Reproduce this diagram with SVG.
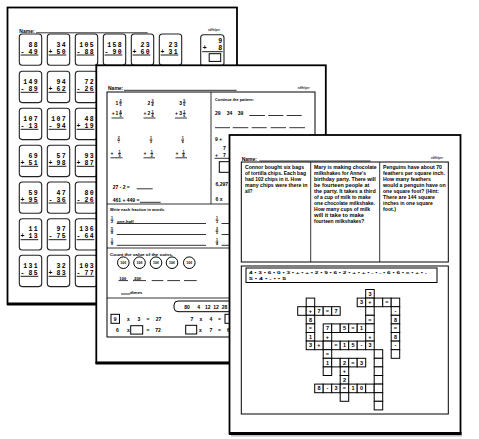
<svg xmlns="http://www.w3.org/2000/svg" width="479" height="439" viewBox="0 0 479 439">
<style>
.page{fill:#fff;stroke:#000;stroke-width:1.8}
.edge{stroke:#000;stroke-width:2.8}
.shadow{stroke:#bbb;stroke-width:2}
.card{fill:#fff;stroke:#222;stroke-width:1.1}
.num{font-family:"Liberation Mono",monospace;font-weight:bold;font-size:6.5px;letter-spacing:1.4px;text-anchor:end}
.op{font-family:"Liberation Mono",monospace;font-weight:bold;font-size:6.5px}
.ul{stroke:#000;stroke-width:0.9}
.t{font-family:"Liberation Sans",Arial,sans-serif;font-weight:bold;font-size:5px}
.sm{font-size:4.3px}
.m{text-anchor:middle}
.logo{font-family:"Liberation Sans",Arial,sans-serif;font-weight:bold;font-size:2.8px;fill:#333}
.fr{font-family:"Liberation Sans",Arial,sans-serif;font-weight:bold;font-size:3.6px;text-anchor:middle}
.ln{stroke:#000;stroke-width:0.8}
.box{fill:none;stroke:#000;stroke-width:1}
.cell{fill:#fff;stroke:#000;stroke-width:1}
.cw{font-family:"Liberation Sans",Arial,sans-serif;font-weight:bold;font-size:5.5px;text-anchor:middle}
.p3{font-family:"Liberation Sans",Arial,sans-serif;font-weight:bold;font-size:5.6px}
</style>
<rect width="479" height="439" fill="#fff"/>

<!-- PAGE 1 -->
<g id="page1">
<rect class="page" x="7.5" y="7.5" width="229.5" height="296.5"/>
<line class="edge" x1="7" y1="304" x2="238" y2="304"/>
<text class="t" x="19.3" y="33">Name:</text>
<line class="ln" x1="36" y1="32.8" x2="147.7" y2="32.8"/>
<text class="logo" x="208" y="31">edHelper</text>
<g transform="translate(19.3,34)"><rect class="card" width="22.4" height="31.3" rx="3"/><text class="num" x="19.8" y="12.7">88</text><text class="op" x="1.2" y="19.8">-</text><text class="num" x="19.8" y="19.8">49</text><line class="ul" x1="1.3" y1="21" x2="19" y2="21"/></g>
<g transform="translate(47.3,34)"><rect class="card" width="22.4" height="31.3" rx="3"/><text class="num" x="19.8" y="12.7">34</text><text class="op" x="1.2" y="19.8">+</text><text class="num" x="19.8" y="19.8">50</text><line class="ul" x1="1.3" y1="21" x2="19" y2="21"/></g>
<g transform="translate(75.3,34)"><rect class="card" width="22.4" height="31.3" rx="3"/><text class="num" x="19.8" y="12.7">105</text><text class="op" x="1.2" y="19.8">-</text><text class="num" x="19.8" y="19.8">88</text><line class="ul" x1="1.3" y1="21" x2="19" y2="21"/></g>
<g transform="translate(103.3,34)"><rect class="card" width="22.4" height="31.3" rx="3"/><text class="num" x="19.8" y="12.7">158</text><text class="op" x="1.2" y="19.8">-</text><text class="num" x="19.8" y="19.8">90</text><line class="ul" x1="1.3" y1="21" x2="19" y2="21"/></g>
<g transform="translate(131.3,34)"><rect class="card" width="22.4" height="31.3" rx="3"/><text class="num" x="19.8" y="12.7">23</text><text class="op" x="1.2" y="19.8">+</text><text class="num" x="19.8" y="19.8">60</text><line class="ul" x1="1.3" y1="21" x2="19" y2="21"/></g>
<g transform="translate(159.3,34)"><rect class="card" width="22.4" height="31.3" rx="3"/><text class="num" x="19.8" y="12.7">23</text><text class="op" x="1.2" y="19.8">+</text><text class="num" x="19.8" y="19.8">31</text><line class="ul" x1="1.3" y1="21" x2="19" y2="21"/></g>
<g transform="translate(200.7,34.7)"><rect class="card" width="23.3" height="31.3" rx="3"/><text class="num" x="22.8" y="8.3">9</text><text class="op" x="2" y="15.8">+</text><text class="num" x="22.8" y="15.8">8</text><line class="ul" x1="1.5" y1="17" x2="22" y2="17"/><rect class="box" x="8.5" y="19" width="11.5" height="7.7"/></g>

<g transform="translate(19.3,71.3)"><rect class="card" width="22.4" height="31.3" rx="3"/><text class="num" x="19.8" y="12.7">149</text><text class="op" x="1.2" y="19.8">-</text><text class="num" x="19.8" y="19.8">89</text><line class="ul" x1="1.3" y1="21" x2="19" y2="21"/></g>
<g transform="translate(47.3,71.3)"><rect class="card" width="22.4" height="31.3" rx="3"/><text class="num" x="19.8" y="12.7">94</text><text class="op" x="1.2" y="19.8">+</text><text class="num" x="19.8" y="19.8">62</text><line class="ul" x1="1.3" y1="21" x2="19" y2="21"/></g>
<g transform="translate(75.3,71.3)"><rect class="card" width="22.4" height="31.3" rx="3"/><text class="num" x="19.8" y="12.7">72</text><text class="op" x="1.2" y="19.8">-</text><text class="num" x="19.8" y="19.8">26</text><line class="ul" x1="1.3" y1="21" x2="19" y2="21"/></g>

<g transform="translate(19.3,108.3)"><rect class="card" width="22.4" height="31.3" rx="3"/><text class="num" x="19.8" y="12.7">107</text><text class="op" x="1.2" y="19.8">-</text><text class="num" x="19.8" y="19.8">13</text><line class="ul" x1="1.3" y1="21" x2="19" y2="21"/></g>
<g transform="translate(47.3,108.3)"><rect class="card" width="22.4" height="31.3" rx="3"/><text class="num" x="19.8" y="12.7">107</text><text class="op" x="1.2" y="19.8">-</text><text class="num" x="19.8" y="19.8">94</text><line class="ul" x1="1.3" y1="21" x2="19" y2="21"/></g>
<g transform="translate(75.3,108.3)"><rect class="card" width="22.4" height="31.3" rx="3"/><text class="num" x="19.8" y="12.7">48</text><text class="op" x="1.2" y="19.8">+</text><text class="num" x="19.8" y="19.8">19</text><line class="ul" x1="1.3" y1="21" x2="19" y2="21"/></g>

<g transform="translate(19.3,145.3)"><rect class="card" width="22.4" height="31.3" rx="3"/><text class="num" x="19.8" y="12.7">69</text><text class="op" x="1.2" y="19.8">+</text><text class="num" x="19.8" y="19.8">51</text><line class="ul" x1="1.3" y1="21" x2="19" y2="21"/></g>
<g transform="translate(47.3,145.3)"><rect class="card" width="22.4" height="31.3" rx="3"/><text class="num" x="19.8" y="12.7">57</text><text class="op" x="1.2" y="19.8">+</text><text class="num" x="19.8" y="19.8">98</text><line class="ul" x1="1.3" y1="21" x2="19" y2="21"/></g>
<g transform="translate(75.3,145.3)"><rect class="card" width="22.4" height="31.3" rx="3"/><text class="num" x="19.8" y="12.7">93</text><text class="op" x="1.2" y="19.8">+</text><text class="num" x="19.8" y="19.8">87</text><line class="ul" x1="1.3" y1="21" x2="19" y2="21"/></g>

<g transform="translate(19.3,182)"><rect class="card" width="22.4" height="31.3" rx="3"/><text class="num" x="19.8" y="12.7">59</text><text class="op" x="1.2" y="19.8">+</text><text class="num" x="19.8" y="19.8">95</text><line class="ul" x1="1.3" y1="21" x2="19" y2="21"/></g>
<g transform="translate(47.3,182)"><rect class="card" width="22.4" height="31.3" rx="3"/><text class="num" x="19.8" y="12.7">47</text><text class="op" x="1.2" y="19.8">-</text><text class="num" x="19.8" y="19.8">36</text><line class="ul" x1="1.3" y1="21" x2="19" y2="21"/></g>
<g transform="translate(75.3,182)"><rect class="card" width="22.4" height="31.3" rx="3"/><text class="num" x="19.8" y="12.7">80</text><text class="op" x="1.2" y="19.8">-</text><text class="num" x="19.8" y="19.8">26</text><line class="ul" x1="1.3" y1="21" x2="19" y2="21"/></g>

<g transform="translate(19.3,218.7)"><rect class="card" width="22.4" height="31.3" rx="3"/><text class="num" x="19.8" y="12.7">11</text><text class="op" x="1.2" y="19.8">+</text><text class="num" x="19.8" y="19.8">13</text><line class="ul" x1="1.3" y1="21" x2="19" y2="21"/></g>
<g transform="translate(47.3,218.7)"><rect class="card" width="22.4" height="31.3" rx="3"/><text class="num" x="19.8" y="12.7">97</text><text class="op" x="1.2" y="19.8">-</text><text class="num" x="19.8" y="19.8">75</text><line class="ul" x1="1.3" y1="21" x2="19" y2="21"/></g>
<g transform="translate(75.3,218.7)"><rect class="card" width="22.4" height="31.3" rx="3"/><text class="num" x="19.8" y="12.7">136</text><text class="op" x="1.2" y="19.8">-</text><text class="num" x="19.8" y="19.8">64</text><line class="ul" x1="1.3" y1="21" x2="19" y2="21"/></g>

<g transform="translate(19.3,255.3)"><rect class="card" width="22.4" height="31.3" rx="3"/><text class="num" x="19.8" y="12.7">131</text><text class="op" x="1.2" y="19.8">-</text><text class="num" x="19.8" y="19.8">85</text><line class="ul" x1="1.3" y1="21" x2="19" y2="21"/></g>
<g transform="translate(47.3,255.3)"><rect class="card" width="22.4" height="31.3" rx="3"/><text class="num" x="19.8" y="12.7">32</text><text class="op" x="1.2" y="19.8">+</text><text class="num" x="19.8" y="19.8">83</text><line class="ul" x1="1.3" y1="21" x2="19" y2="21"/></g>
<g transform="translate(75.3,255.3)"><rect class="card" width="22.4" height="31.3" rx="3"/><text class="num" x="19.8" y="12.7">103</text><text class="op" x="1.2" y="19.8">-</text><text class="num" x="19.8" y="19.8">77</text><line class="ul" x1="1.3" y1="21" x2="19" y2="21"/></g>
</g>

<!-- PAGE 2 -->
<g id="page2">
<rect class="page" x="96.3" y="65.3" width="229.5" height="297.5"/>
<line class="edge" x1="95.5" y1="363" x2="326.5" y2="363"/>
<text class="t" x="108" y="90">Name:</text>
<line class="ln" x1="124" y1="90.3" x2="236.7" y2="90.3"/>
<text class="logo" x="297.7" y="89">edHelper</text>
<rect class="box" x="107" y="92" width="208" height="245"/>
<line class="ln" x1="211" y1="92" x2="211" y2="204"/>
<line class="ln" x1="107" y1="204" x2="315" y2="204"/>
<line class="ln" x1="107" y1="248" x2="315" y2="248"/>
<line class="ln" x1="107" y1="298" x2="315" y2="298"/>

<text class="t m" x="117" y="104.5">1</text><text class="fr" x="120.6" y="102">2</text><line class="ln" x1="119.2" y1="102.7" x2="122" y2="102.7" stroke-width="0.5"/><text class="fr" x="120.6" y="106">5</text>
<text class="t m" x="149" y="104.5">2</text><text class="fr" x="152.6" y="102">3</text><line class="ln" x1="151.2" y1="102.7" x2="154" y2="102.7" stroke-width="0.5"/><text class="fr" x="152.6" y="106">4</text>
<text class="t m" x="180.7" y="104.5">3</text><text class="fr" x="184.3" y="102">5</text><line class="ln" x1="182.9" y1="102.7" x2="185.7" y2="102.7" stroke-width="0.5"/><text class="fr" x="184.3" y="106">6</text>
<text class="t m" x="113.3" y="115.3">+</text><text class="t m" x="117" y="115.3">1</text><text class="fr" x="120.6" y="112.8">4</text><line class="ln" x1="119.2" y1="113.5" x2="122" y2="113.5" stroke-width="0.5"/><text class="fr" x="120.6" y="116.8">5</text><line class="ln" x1="111.5" y1="118" x2="123.5" y2="118"/>
<text class="t m" x="145" y="115.3">+</text><text class="t m" x="149" y="115.3">2</text><text class="fr" x="152.6" y="112.8">1</text><line class="ln" x1="151.2" y1="113.5" x2="154" y2="113.5" stroke-width="0.5"/><text class="fr" x="152.6" y="116.8">4</text><line class="ln" x1="143.5" y1="118" x2="155.5" y2="118"/>
<text class="t m" x="176.5" y="115.3">+</text><text class="t m" x="180.7" y="115.3">3</text><text class="fr" x="184.3" y="112.8">1</text><line class="ln" x1="182.9" y1="113.5" x2="185.7" y2="113.5" stroke-width="0.5"/><text class="fr" x="184.3" y="116.8">6</text><line class="ln" x1="175" y1="118" x2="187" y2="118"/>
<text class="fr" x="118.7" y="139.3">2</text><line class="ln" x1="117.3" y1="140" x2="120.1" y2="140" stroke-width="0.5"/><text class="fr" x="118.7" y="143.3">7</text>
<text class="fr" x="151" y="139.3">1</text><line class="ln" x1="149.6" y1="140" x2="152.4" y2="140" stroke-width="0.5"/><text class="fr" x="151" y="143.3">2</text>
<text class="fr" x="182.7" y="139.3">1</text><line class="ln" x1="181.3" y1="140" x2="184.1" y2="140" stroke-width="0.5"/><text class="fr" x="182.7" y="143.3">6</text>
<text class="t m" x="112" y="155.3">+</text><text class="fr" x="119.5" y="152.8">1</text><line class="ln" x1="118.1" y1="153.5" x2="120.9" y2="153.5" stroke-width="0.5"/><text class="fr" x="119.5" y="156.8">9</text><line class="ln" x1="110.5" y1="157.8" x2="122.5" y2="157.8"/>
<text class="t m" x="145" y="155.3">+</text><text class="fr" x="151.8" y="152.8">1</text><line class="ln" x1="150.4" y1="153.5" x2="153.2" y2="153.5" stroke-width="0.5"/><text class="fr" x="151.8" y="156.8">2</text><line class="ln" x1="143.5" y1="157.8" x2="155" y2="157.8"/>
<text class="t m" x="177" y="155.3">+</text><text class="fr" x="183.5" y="152.8">1</text><line class="ln" x1="182.1" y1="153.5" x2="184.9" y2="153.5" stroke-width="0.5"/><text class="fr" x="183.5" y="156.8">8</text><line class="ln" x1="175.5" y1="157.8" x2="187" y2="157.8"/>
<text class="t" x="112.7" y="188.5">27  -  2  =</text><line class="ln" x1="136.7" y1="188.8" x2="152.7" y2="188.8"/>
<text class="t" x="112.7" y="202">461  +  449  =</text><line class="ln" x1="140" y1="202.3" x2="160.7" y2="202.3"/>

<text class="t sm" x="215" y="100.5" textLength="39" lengthAdjust="spacingAndGlyphs">Continue the pattern:</text>
<text class="t" x="215" y="115">29</text><text class="t" x="226.7" y="115">34</text><text class="t" x="237.7" y="115">39</text>
<line class="ln" x1="249.3" y1="115.5" x2="265" y2="115.5"/><line class="ln" x1="268.3" y1="115.5" x2="283.3" y2="115.5"/><line class="ln" x1="286.7" y1="115.5" x2="301.7" y2="115.5"/>
<line class="ln" x1="215" y1="127.7" x2="230" y2="127.7"/><line class="ln" x1="232.7" y1="127.7" x2="248.3" y2="127.7"/><line class="ln" x1="251.7" y1="127.7" x2="266.7" y2="127.7"/><line class="ln" x1="270.7" y1="127.7" x2="286" y2="127.7"/><line class="ln" x1="289.3" y1="127.7" x2="305" y2="127.7"/>
<text class="t" x="215" y="141">9  +</text>
<text class="t" x="223" y="150">7</text>
<text class="t" x="215" y="157">+</text><text class="t" x="223" y="157">7</text>
<line class="ln" x1="214.5" y1="158.3" x2="232" y2="158.3"/>
<rect class="box" x="219.3" y="161.7" width="15" height="10.6"/>
<text class="t" x="215.5" y="186">6,297</text>
<text class="t" x="215.5" y="201">6  x</text>

<text class="t sm" x="110" y="211" textLength="55" lengthAdjust="spacingAndGlyphs">Write each fraction in words.</text>
<text class="fr" x="112" y="219.3">1</text><line class="ln" x1="110.6" y1="220" x2="113.4" y2="220" stroke-width="0.5"/><text class="fr" x="112" y="223.3">2</text>
<text class="t sm" x="117" y="222.6">one-half</text>
<line class="ln" x1="116.7" y1="223.5" x2="206" y2="223.5"/>
<text class="fr" x="112" y="230.3">5</text><line class="ln" x1="110.6" y1="231" x2="113.4" y2="231" stroke-width="0.5"/><text class="fr" x="112" y="234.3">8</text>
<line class="ln" x1="116.7" y1="234.5" x2="206" y2="234.5"/>
<text class="fr" x="112" y="241.3">1</text><line class="ln" x1="110.6" y1="242" x2="113.4" y2="242" stroke-width="0.5"/><text class="fr" x="112" y="245.3">8</text>
<line class="ln" x1="116.7" y1="245.3" x2="206" y2="245.3"/>
<text class="fr" x="217" y="219.3">1</text><line class="ln" x1="215.6" y1="220" x2="218.4" y2="220" stroke-width="0.5"/><text class="fr" x="217" y="223.3">3</text>
<line class="ln" x1="221.5" y1="223.5" x2="236" y2="223.5"/>
<text class="fr" x="217" y="230.3">2</text><line class="ln" x1="215.6" y1="231" x2="218.4" y2="231" stroke-width="0.5"/><text class="fr" x="217" y="234.3">5</text>
<line class="ln" x1="221.5" y1="234.5" x2="236" y2="234.5"/>
<text class="fr" x="217" y="241.3">1</text><line class="ln" x1="215.6" y1="242" x2="218.4" y2="242" stroke-width="0.5"/><text class="fr" x="217" y="245.3">4</text>
<line class="ln" x1="221.5" y1="245.3" x2="236" y2="245.3"/>

<text class="t sm" x="110" y="255.5" textLength="63" lengthAdjust="spacingAndGlyphs">Count the value of the coins.</text>
<circle class="box" cx="123.3" cy="262.7" r="5.8"/><text class="fr" x="123.3" y="264">10¢</text>
<circle class="box" cx="139.5" cy="262.7" r="5.8"/><text class="fr" x="139.5" y="264">10¢</text>
<circle class="box" cx="156" cy="262.7" r="5.8"/><text class="fr" x="156" y="264">10¢</text>
<circle class="box" cx="172" cy="262.7" r="5.8"/><text class="fr" x="172" y="264">10¢</text>
<circle class="box" cx="189.3" cy="262.7" r="5.8"/><text class="fr" x="189.3" y="264">10¢</text>
<text class="t sm" x="119.3" y="279.6">10¢</text><line class="ln" x1="118.5" y1="280.6" x2="128" y2="280.6"/>
<text class="t sm" x="134" y="279.6">20¢</text><line class="ln" x1="133" y1="280.6" x2="146" y2="280.6"/>
<line class="ln" x1="151.7" y1="280.6" x2="163.3" y2="280.6"/><line class="ln" x1="167.3" y1="280.6" x2="180" y2="280.6"/><line class="ln" x1="184" y1="280.6" x2="196.7" y2="280.6"/>
<line class="ln" x1="121" y1="294" x2="130" y2="294"/><text class="t sm" x="130" y="293.6">dimes</text>

<rect class="box" x="174" y="301" width="80" height="10.7" rx="4"/>
<text class="t" x="184.3" y="308.5">80</text><text class="t" x="197.3" y="308.5">4</text><text class="t" x="205" y="308.5">12</text><text class="t" x="213.3" y="308.5">12</text><text class="t" x="221.7" y="308.5">28</text>
<rect class="box" x="111" y="314.3" width="8.5" height="9"/>
<text class="t m" x="115.2" y="320.5">9</text><text class="t m" x="128.5" y="320.5">x</text><text class="t m" x="139" y="320.5">3</text><text class="t m" x="148" y="320.5">=</text><text class="t m" x="158.5" y="320.5">27</text>
<text class="t m" x="117.5" y="331.8">6</text><text class="t m" x="128.5" y="331.8">x</text><rect class="box" x="130.7" y="325.7" width="12" height="8.4"/><text class="t m" x="148" y="331.8">=</text><text class="t m" x="158" y="331.8">72</text>
<text class="t m" x="192" y="320.5">7</text><text class="t m" x="201" y="320.5">x</text><text class="t m" x="211" y="320.5">4</text><text class="t m" x="219.5" y="320.5">=</text><rect class="box" x="225" y="314.3" width="10" height="9"/>
<rect class="box" x="185.7" y="325.3" width="11" height="8.7"/><text class="t m" x="200.5" y="331.8">x</text><text class="t m" x="211" y="331.8">7</text><text class="t m" x="219.5" y="331.8">=</text><text class="t m" x="228.5" y="331.8">6</text>
</g>

<!-- PAGE 3 -->
<g id="page3">
<line class="shadow" x1="231" y1="435.5" x2="462" y2="435.5"/>
<rect class="page" x="229.5" y="135" width="231" height="298.5"/>
<line class="edge" x1="229" y1="433.5" x2="461.5" y2="433.5"/>
<text class="t" x="241.7" y="161">Name:</text>
<line class="ln" x1="259.3" y1="161" x2="370.5" y2="161"/>
<text class="logo" x="431" y="158.5">edHelper</text>

<g id="word-problems">
<rect class="box" x="241.3" y="162" width="207" height="100"/>
<line class="ln" x1="310.7" y1="162" x2="310.7" y2="262"/>
<line class="ln" x1="379.7" y1="162" x2="379.7" y2="262"/>
<text class="p3" x="245" y="169.2" textLength="59" lengthAdjust="spacingAndGlyphs">Connor bought six bags</text>
<text class="p3" x="245" y="175.2" textLength="61" lengthAdjust="spacingAndGlyphs">of tortilla chips. Each bag</text>
<text class="p3" x="245" y="181.2" textLength="56" lengthAdjust="spacingAndGlyphs">had 102 chips in it. How</text>
<text class="p3" x="245" y="187.2" textLength="62.5" lengthAdjust="spacingAndGlyphs">many chips were there in</text>
<text class="p3" x="245" y="193.2" textLength="7.5" lengthAdjust="spacingAndGlyphs">all?</text>
<text class="p3" x="314" y="169.2" textLength="62.7" lengthAdjust="spacingAndGlyphs">Mary is making chocolate</text>
<text class="p3" x="314" y="175.2" textLength="52" lengthAdjust="spacingAndGlyphs">milkshakes for Anne's</text>
<text class="p3" x="314" y="181.2" textLength="61.7" lengthAdjust="spacingAndGlyphs">birthday party. There will</text>
<text class="p3" x="314" y="187.2" textLength="55.3" lengthAdjust="spacingAndGlyphs">be fourteen people at</text>
<text class="p3" x="314" y="193.2" textLength="61.7" lengthAdjust="spacingAndGlyphs">the party. It takes a third</text>
<text class="p3" x="314" y="199.2" textLength="56.7" lengthAdjust="spacingAndGlyphs">of a cup of milk to make</text>
<text class="p3" x="314" y="205.2" textLength="61" lengthAdjust="spacingAndGlyphs">one chocolate milkshake.</text>
<text class="p3" x="314" y="211.2" textLength="56" lengthAdjust="spacingAndGlyphs">How many cups of milk</text>
<text class="p3" x="314" y="217.2" textLength="50" lengthAdjust="spacingAndGlyphs">will it take to make</text>
<text class="p3" x="314" y="223.2" textLength="50.3" lengthAdjust="spacingAndGlyphs">fourteen milkshakes?</text>
<text class="p3" x="383" y="169.2" textLength="59" lengthAdjust="spacingAndGlyphs">Penguins have about 70</text>
<text class="p3" x="383" y="175.2" textLength="62" lengthAdjust="spacingAndGlyphs">feathers per square inch.</text>
<text class="p3" x="383" y="181.2" textLength="48" lengthAdjust="spacingAndGlyphs">How many feathers</text>
<text class="p3" x="383" y="187.2" textLength="62.7" lengthAdjust="spacingAndGlyphs">would a penguin have on</text>
<text class="p3" x="383" y="193.2" textLength="56" lengthAdjust="spacingAndGlyphs">one square foot? (Hint:</text>
<text class="p3" x="383" y="199.2" textLength="52" lengthAdjust="spacingAndGlyphs">There are 144 square</text>
<text class="p3" x="383" y="205.2" textLength="49.7" lengthAdjust="spacingAndGlyphs">inches in one square</text>
<text class="p3" x="383" y="211.2" textLength="13" lengthAdjust="spacingAndGlyphs">foot.)</text>
</g>

<g id="crossword-box">
<rect class="box" x="241.3" y="266" width="207" height="148"/>
<rect class="box" x="246" y="268" width="191" height="14.5"/>
<text class="t sm" x="249" y="274.3" textLength="178" lengthAdjust="spacingAndGlyphs">4 • 3 • 6 • 0 • 3 • + • + • 2 • 9 • 6 • 2 • + • + • - • - • 6 • 6 • = • + • -</text>
<text class="t sm" x="249" y="280.2" textLength="37" lengthAdjust="spacingAndGlyphs">5 • 4 • - • • 5</text>
</g>

<g id="crossword" transform="translate(297.7,289.5)">
<rect class="cell" x="68" y="0" width="8.5" height="8.6"/><text class="cw" x="72.25" y="6.3">3</text>
<rect class="cell" x="8.5" y="8.6" width="8.5" height="8.6"/>
<rect class="cell" x="59.5" y="8.6" width="8.5" height="8.6"/><text class="cw" x="63.75" y="14.9">3</text>
<rect class="cell" x="68" y="8.6" width="8.5" height="8.6"/><text class="cw" x="72.25" y="14.9">+</text>
<rect class="cell" x="76.5" y="8.6" width="8.5" height="8.6"/>
<rect class="cell" x="85" y="8.6" width="8.5" height="8.6"/><text class="cw" x="89.25" y="14.9">=</text>
<rect class="cell" x="93.5" y="8.6" width="8.5" height="8.6"/>
<rect class="cell" x="0" y="17.2" width="8.5" height="8.6"/>
<rect class="cell" x="8.5" y="17.2" width="8.5" height="8.6"/><text class="cw" x="12.75" y="23.5">+</text>
<rect class="cell" x="17" y="17.2" width="8.5" height="8.6"/><text class="cw" x="21.25" y="23.5">7</text>
<rect class="cell" x="25.5" y="17.2" width="8.5" height="8.6"/><text class="cw" x="29.75" y="23.5">=</text>
<rect class="cell" x="34" y="17.2" width="8.5" height="8.6"/><text class="cw" x="38.25" y="23.5">7</text>
<rect class="cell" x="68" y="17.2" width="8.5" height="8.6"/>
<rect class="cell" x="93.5" y="17.2" width="8.5" height="8.6"/><text class="cw" x="97.75" y="23.5">-</text>
<rect class="cell" x="8.5" y="25.8" width="8.5" height="8.6"/><text class="cw" x="12.75" y="32.1">8</text>
<rect class="cell" x="68" y="25.8" width="8.5" height="8.6"/><text class="cw" x="72.25" y="32.1">=</text>
<rect class="cell" x="93.5" y="25.8" width="8.5" height="8.6"/><text class="cw" x="97.75" y="32.1">8</text>
<rect class="cell" x="8.5" y="34.4" width="8.5" height="8.6"/><text class="cw" x="12.75" y="40.7">=</text>
<rect class="cell" x="25.5" y="34.4" width="8.5" height="8.6"/><text class="cw" x="29.75" y="40.7">7</text>
<rect class="cell" x="34" y="34.4" width="8.5" height="8.6"/>
<rect class="cell" x="42.5" y="34.4" width="8.5" height="8.6"/><text class="cw" x="46.75" y="40.7">5</text>
<rect class="cell" x="51" y="34.4" width="8.5" height="8.6"/><text class="cw" x="55.25" y="40.7">=</text>
<rect class="cell" x="59.5" y="34.4" width="8.5" height="8.6"/><text class="cw" x="63.75" y="40.7">1</text>
<rect class="cell" x="68" y="34.4" width="8.5" height="8.6"/>
<rect class="cell" x="93.5" y="34.4" width="8.5" height="8.6"/><text class="cw" x="97.75" y="40.7">=</text>
<rect class="cell" x="8.5" y="43" width="8.5" height="8.6"/><text class="cw" x="12.75" y="49.3">1</text>
<rect class="cell" x="25.5" y="43" width="8.5" height="8.6"/><text class="cw" x="29.75" y="49.3">+</text>
<rect class="cell" x="68" y="43" width="8.5" height="8.6"/><text class="cw" x="72.25" y="49.3">+</text>
<rect class="cell" x="93.5" y="43" width="8.5" height="8.6"/><text class="cw" x="97.75" y="49.3">8</text>
<rect class="cell" x="8.5" y="51.6" width="8.5" height="8.6"/><text class="cw" x="12.75" y="57.9">3</text>
<rect class="cell" x="17" y="51.6" width="8.5" height="8.6"/><text class="cw" x="21.25" y="57.9">+</text>
<rect class="cell" x="25.5" y="51.6" width="8.5" height="8.6"/>
<rect class="cell" x="34" y="51.6" width="8.5" height="8.6"/><text class="cw" x="38.25" y="57.9">=</text>
<rect class="cell" x="42.5" y="51.6" width="8.5" height="8.6"/><text class="cw" x="46.75" y="57.9">1</text>
<rect class="cell" x="51" y="51.6" width="8.5" height="8.6"/><text class="cw" x="55.25" y="57.9">5</text>
<rect class="cell" x="59.5" y="51.6" width="8.5" height="8.6"/><text class="cw" x="63.75" y="57.9">-</text>
<rect class="cell" x="68" y="51.6" width="8.5" height="8.6"/><text class="cw" x="72.25" y="57.9">3</text>
<rect class="cell" x="93.5" y="51.6" width="8.5" height="8.6"/><text class="cw" x="97.75" y="57.9">-</text>
<rect class="cell" x="25.5" y="60.2" width="8.5" height="8.6"/><text class="cw" x="29.75" y="66.5">=</text>
<rect class="cell" x="76.5" y="60.2" width="8.5" height="8.6"/>
<rect class="cell" x="93.5" y="60.2" width="8.5" height="8.6"/>
<rect class="cell" x="25.5" y="68.8" width="8.5" height="8.6"/><text class="cw" x="29.75" y="75.1">1</text>
<rect class="cell" x="34" y="68.8" width="8.5" height="8.6"/>
<rect class="cell" x="42.5" y="68.8" width="8.5" height="8.6"/><text class="cw" x="46.75" y="75.1">2</text>
<rect class="cell" x="51" y="68.8" width="8.5" height="8.6"/><text class="cw" x="55.25" y="75.1">=</text>
<rect class="cell" x="59.5" y="68.8" width="8.5" height="8.6"/><text class="cw" x="63.75" y="75.1">3</text>
<rect class="cell" x="76.5" y="68.8" width="8.5" height="8.6"/>
<rect class="cell" x="25.5" y="77.4" width="8.5" height="8.6"/>
<rect class="cell" x="42.5" y="77.4" width="8.5" height="8.6"/><text class="cw" x="46.75" y="83.7">+</text>
<rect class="cell" x="76.5" y="77.4" width="8.5" height="8.6"/>
<rect class="cell" x="42.5" y="86" width="8.5" height="8.6"/><text class="cw" x="46.75" y="92.3">2</text>
<rect class="cell" x="76.5" y="86" width="8.5" height="8.6"/>
<rect class="cell" x="17" y="94.6" width="8.5" height="8.6"/><text class="cw" x="21.25" y="100.9">8</text>
<rect class="cell" x="25.5" y="94.6" width="8.5" height="8.6"/><text class="cw" x="29.75" y="100.9">-</text>
<rect class="cell" x="34" y="94.6" width="8.5" height="8.6"/><text class="cw" x="38.25" y="100.9">3</text>
<rect class="cell" x="42.5" y="94.6" width="8.5" height="8.6"/><text class="cw" x="46.75" y="100.9">=</text>
<rect class="cell" x="51" y="94.6" width="8.5" height="8.6"/><text class="cw" x="55.25" y="100.9">1</text>
<rect class="cell" x="59.5" y="94.6" width="8.5" height="8.6"/><text class="cw" x="63.75" y="100.9">0</text>
<rect class="cell" x="68" y="94.6" width="8.5" height="8.6"/>
<rect class="cell" x="76.5" y="94.6" width="8.5" height="8.6"/>
<rect class="cell" x="42.5" y="103.2" width="8.5" height="8.6"/>
<rect class="cell" x="76.5" y="103.2" width="8.5" height="8.6"/>
<rect class="cell" x="76.5" y="111.8" width="8.5" height="8.6"/>
</g>
</g>
</svg>
